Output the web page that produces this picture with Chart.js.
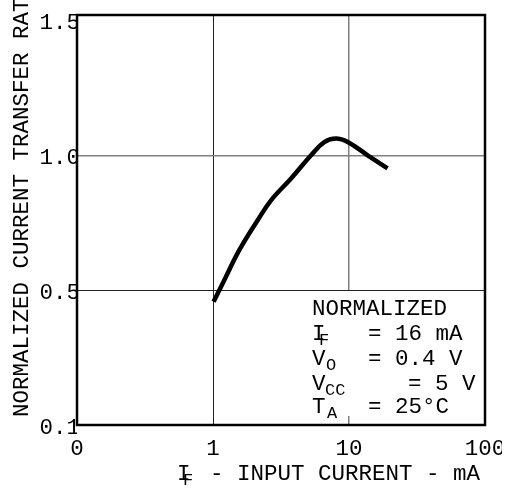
<!DOCTYPE html>
<html>
<head>
<meta charset="utf-8">
<script src="https://cdn.jsdelivr.net/npm/chart.js@4.4.1/dist/chart.umd.min.js"></script>
<style>
  html, body { margin: 0; padding: 0; background: #fff; }
  #wrap { width: 502px; height: 493px; }
</style>
</head>
<body>
<div id="wrap"><canvas id="myChart" width="502" height="493"></canvas></div>
<script>
// input current (mA) and normalized CTR
var current = [1.01, 1.21, 1.56, 2.13, 2.67, 3.75, 5.26, 6.58, 8.03, 9.78, 13.7, 19.2];
var ctr = [0.457, 0.537, 0.648, 0.759, 0.833, 0.914, 1.0, 1.049, 1.062, 1.049, 1.0, 0.951];

var xTicks = [0.1, 1, 10, 100];
var xTickLabels = ['0', '1', '10', '100'];
var yTicks = [0, 0.5, 1.0, 1.5];
var yTickLabels = ['0.1', '0.5', '1.0', '1.5'];

var FONT = 'Liberation Mono';
var FS = 22.5;

var points = current.map(function (x, i) { return { x: x, y: ctr[i] }; });

var extras = {
  id: 'extras',
  afterDraw: function (chart) {
    var c = chart.ctx, a = chart.chartArea;
    c.save();
    // white panel behind the conditions text
    c.fillStyle = '#fff';
    c.fillRect(304, 291, a.right - 304 - 1, 125);

    // frame
    c.strokeStyle = '#000';
    c.lineWidth = 2.5;
    c.strokeRect(a.left, a.top, a.right - a.left, a.bottom - a.top);

    c.fillStyle = '#000';
    c.textAlign = 'left';
    c.textBaseline = 'alphabetic';
    var big = FS + 'px "' + FONT + '"';
    var small = '17px "' + FONT + '"';
    function t(s, x, y, f) { c.font = f || big; c.fillText(s, x, y); }

    t('NORMALIZED', 312, 315);
    t('I', 312, 340); t('F', 319, 345, small); t('= 16 mA', 368, 340);
    t('V', 312, 365); t('O', 326, 370, small); t('= 0.4 V', 368, 365);
    t('V', 312, 390); t('CC', 325, 395, small); t('= 5 V', 408, 390);
    t('T', 312, 413); t('A', 327, 418, small); t('= 25\u00b0C', 368, 413);

    // x axis title
    t('I', 177, 480); t('F', 183, 485, small); t('- INPUT CURRENT - mA', 210, 480);

    // y axis title
    c.translate(28, 417);
    c.rotate(-Math.PI / 2);
    t('NORMALIZED CURRENT TRANSFER RATIO', 0, 0);
    c.restore();
  }
};

var ctx = document.getElementById('myChart').getContext('2d');
var chart = new Chart(ctx, {
  type: 'scatter',
  data: {
    datasets: [{
      data: points,
      showLine: true,
      borderColor: '#000',
      borderWidth: 4.5,
      pointRadius: 0,
      tension: 0.4,
      fill: false
    }]
  },
  options: {
    responsive: false,
    animation: false,
    layout: { autoPadding: false, padding: { left: 37, top: 15, right: 17, bottom: 0 } },
    scales: {
      x: {
        type: 'logarithmic',
        min: 0.1,
        max: 100,
        afterBuildTicks: function (s) { s.ticks = xTicks.map(function (v) { return { value: v }; }); },
        afterFit: function (s) { s.height = 68; s.paddingLeft = 0; s.paddingRight = 0; },
        grid: {
          drawTicks: false,
          color: function (c) {
            var v = c.tick && c.tick.value;
            if (v === 1) return '#222';
            if (v === 10) return '#808080';
            return 'rgba(0,0,0,0)';
          },
          lineWidth: function (c) { return c.tick && c.tick.value === 10 ? 1.5 : 1; }
        },
        border: { display: false },
        ticks: {
          autoSkip: false,
          maxRotation: 0,
          padding: 11,
          color: '#000',
          font: { family: FONT, size: FS },
          callback: function (v) { var i = xTicks.indexOf(v); return i < 0 ? '' : xTickLabels[i]; }
        }
      },
      y: {
        type: 'linear',
        min: 0,
        max: 1.52,
        afterBuildTicks: function (s) { s.ticks = yTicks.map(function (v) { return { value: v }; }); },
        afterFit: function (s) { s.width = 40; s.paddingTop = 0; s.paddingBottom = 0; },
        grid: {
          drawTicks: false,
          color: function (c) {
            var v = c.tick && c.tick.value;
            if (v === 0.5) return '#222';
            if (v === 1.0) return '#808080';
            return 'rgba(0,0,0,0)';
          },
          lineWidth: function (c) { return c.tick && c.tick.value === 1.0 ? 1.5 : 1; }
        },
        border: { display: false },
        ticks: {
          padding: -3,
          labelOffset: 3,
          color: '#000',
          font: { family: FONT, size: FS },
          callback: function (v) { var i = yTicks.indexOf(v); return i < 0 ? '' : yTickLabels[i]; }
        }
      }
    },
    plugins: {
      legend: { display: false },
      tooltip: { enabled: false }
    }
  },
  plugins: [extras]
});
</script>
</body>
</html>
